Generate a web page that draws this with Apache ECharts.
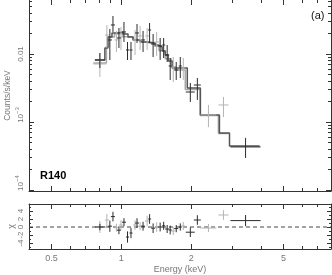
<!DOCTYPE html>
<html><head><meta charset="utf-8">
<script src="https://cdn.jsdelivr.net/npm/echarts@6/dist/echarts.min.js"></script>
<style>html,body{margin:0;padding:0;background:#fff}#c{width:332px;height:275px}</style>
</head><body><div id="c"></div>
<script>
// ---------- data (raw values; plotted on log10 value axes) ----------
const blackE     = [0.808, 0.892, 0.920, 0.976, 1.026, 1.063, 1.100, 1.168, 1.240, 1.323, 1.370, 1.469, 1.521, 1.575, 1.623, 1.723, 1.794, 1.982, 2.125, 3.428];
const blackELo   = [0.769, 0.875, 0.901, 0.957, 1.006, 1.047, 1.084, 1.145, 1.216, 1.304, 1.343, 1.440, 1.499, 1.544, 1.599, 1.688, 1.767, 1.894, 2.052, 2.951];
const blackEHi   = [0.849, 0.911, 0.938, 0.996, 1.047, 1.079, 1.117, 1.191, 1.265, 1.343, 1.398, 1.499, 1.544, 1.607, 1.648, 1.758, 1.821, 2.071, 2.199, 3.980];
const blackFlux  = [0.00816, 0.01607, 0.0267, 0.01719, 0.02107, 0.01145, 0.01145, 0.02036, 0.01607, 0.02254, 0.01403, 0.01311, 0.01356, 0.00967, 0.00666, 0.00582, 0.00666, 0.00276, 0.00350, 0.000430];
const blackFluxLo= [0.00622, 0.00816, 0.02107, 0.01225, 0.01501, 0.00816, 0.00816, 0.01451, 0.0107, 0.01451, 0.00903, 0.00816, 0.00873, 0.00763, 0.00415, 0.00415, 0.00443, 0.00197, 0.00211, 0.000296];
const blackFluxHi= [0.01034, 0.0233, 0.0362, 0.0241, 0.02955, 0.01501, 0.01501, 0.0276, 0.0218, 0.02857, 0.01968, 0.01719, 0.01719, 0.01356, 0.00873, 0.00763, 0.00903, 0.00375, 0.00443, 0.000584];
const blackResid = [0, 0.2, 2.6, -0.8, 1.2, -2.5, -1.5, 1.0, 0.2, 2.0, -0.3, 0, 0.3, -0.5, -0.75, -0.4, 0, -1.3, 1.75, 1.6];
const blackResidErr = [0.8, 1.4, 1.2, 1.0, 1.0, 1.4, 1.3, 1.2, 1.1, 1.2, 1.2, 1.1, 1.0, 1.0, 1.1, 0.9, 0.9, 1.2, 1.2, 1.4];

const grayE      = [0.808, 0.866, 0.952, 0.996, 1.145, 1.204, 1.291, 1.419, 1.673, 1.848, 2.372, 2.753];
const grayELo    = [0.757, 0.849, 0.934, 0.976, 1.123, 1.180, 1.265, 1.391, 1.639, 1.811, 2.189, 2.618];
const grayEHi    = [0.862, 0.884, 0.971, 1.016, 1.168, 1.228, 1.317, 1.453, 1.706, 1.885, 2.568, 2.895];
const grayFlux   = [0.00713, 0.0190, 0.01607, 0.01778, 0.01607, 0.0184, 0.0184, 0.01501, 0.00644, 0.00622, 0.001268, 0.00178];
const grayFluxLo = [0.00459, 0.01225, 0.0107, 0.01145, 0.00967, 0.01145, 0.01145, 0.00935, 0.00387, 0.00415, 0.00084, 0.00118];
const grayFluxHi = [0.01034, 0.0267, 0.0218, 0.0249, 0.02254, 0.0258, 0.0241, 0.02107, 0.00903, 0.00873, 0.00178, 0.00233];
const grayResid  = [0, 1.75, -0.2, 0.5, 0.5, 0.2, 1.5, 0, -1.0, 0.25, -0.25, 3.0];
const grayResidErr = [1.5, 1.5, 1.0, 1.2, 1.2, 1.0, 1.3, 1.2, 1.0, 1.0, 1.0, 1.2];

const modelBlackEdges  = [0.769, 0.849, 0.875, 0.911, 0.967, 1.016, 1.068, 1.123, 1.204, 1.304, 1.398, 1.440, 1.499, 1.544, 1.591, 1.656, 1.923, 2.189, 2.645, 2.923, 3.941];
const modelBlackValues = [0.00816, 0.01225, 0.01778, 0.02036, 0.02107, 0.01968, 0.01778, 0.01607, 0.01501, 0.01451, 0.01356, 0.01268, 0.01107, 0.00967, 0.00789, 0.00622, 0.00316, 0.001268, 0.000689, 0.000444];
const modelGrayEdges   = [0.757, 0.862, 0.884, 0.934, 0.976, 1.016, 1.123, 1.168, 1.228, 1.317, 1.391, 1.453, 1.545, 1.639, 1.706, 1.885, 2.189, 2.618, 2.895];
const modelGrayValues  = [0.0074, 0.0128, 0.0178, 0.0198, 0.0200, 0.0180, 0.0163, 0.0153, 0.0146, 0.0140, 0.0130, 0.0112, 0.0085, 0.0065, 0.0058, 0.0030, 0.00125, 0.00068];

const xMajorTicks = [0.5, 1, 2, 5];
const xMinorTicks = [0.6, 0.7, 0.8, 0.9, 3, 4, 6, 7];
const yMajorTicks = [1e-4, 1e-3, 1e-2];
const yMinorTicks = [2e-4,3e-4,4e-4,5e-4,6e-4,7e-4,8e-4,9e-4,2e-3,3e-3,4e-3,5e-3,6e-3,7e-3,8e-3,9e-3,0.02,0.03,0.04,0.05,0.06];
const residMajorTicks = [-4, -2, 0, 2, 4];
const residMinorTicks = [-5, -3, -1, 1, 3, 5];
const xTickLabels = ['0.5', '1', '2', '5'];
const yTickLabels = ['{b|10}{s|−4}', '{b|10}{s|−3}', '{n|0.01}'];
const residTickLabels = ['-4', '-2', '0', '2', '4'];

// ---------- style / layout ----------
const AX = '#333', LBL = '#777', FONT = '"Liberation Sans", Arial, sans-serif';
const L = Math.log10;
const X_MIN = L(0.4), X_MAX = L(8), Y_MIN = L(9.67e-5), Y_MAX = L(0.0622), R_MIN = -5.5, R_MAX = 5.75;

function findLabel(ticks, labels, v, log) {
  const i = ticks.findIndex(t => Math.abs((log ? L(t) : t) - v) < 1e-6);
  return i < 0 ? '' : labels[i];
}
function mkAxis(gridIndex, position, min, max, values, len, showLine, label, extra) {
  return Object.assign({
    type: 'value', gridIndex, position, min, max,
    axisLine: {show: showLine, onZero: false, lineStyle: {color: AX, width: 1}},
    axisTick: {show: true, inside: true, length: len, customValues: values, lineStyle: {color: AX, width: 1}},
    axisLabel: label || {show: false},
    splitLine: {show: false}
  }, extra || {});
}
const xMaj = xMajorTicks.map(L), xMin = xMinorTicks.map(L);
const yMaj = yMajorTicks.map(L), yMin = yMinorTicks.map(L);

const xAxes = [
  mkAxis(0, 'bottom', X_MIN, X_MAX, xMaj, 5, true),
  mkAxis(0, 'bottom', X_MIN, X_MAX, xMin, 3, false),
  mkAxis(0, 'top', X_MIN, X_MAX, xMaj, 5, false),
  mkAxis(0, 'top', X_MIN, X_MAX, xMin, 3, false),
  mkAxis(1, 'bottom', X_MIN, X_MAX, xMaj, 5, true, {
    show: true, customValues: xMaj, margin: 5, color: LBL, fontSize: 9, fontFamily: FONT,
    formatter: v => findLabel(xMajorTicks, xTickLabels, v, true)
  }, {name: 'Energy (keV)', nameLocation: 'middle', nameGap: 16, nameMoveOverlap: false,
      nameTextStyle: {color: LBL, fontSize: 9, fontFamily: FONT}}),
  mkAxis(1, 'bottom', X_MIN, X_MAX, xMin, 3, false),
  mkAxis(1, 'top', X_MIN, X_MAX, xMaj, 5, true),
  mkAxis(1, 'top', X_MIN, X_MAX, xMin, 3, false)
];

const yAxes = [
  mkAxis(0, 'left', Y_MIN, Y_MAX, yMaj, 5, true, {
    show: true, customValues: yMaj, rotate: 90, margin: 4, color: LBL, fontFamily: FONT,
    formatter: v => findLabel(yMajorTicks, yTickLabels, v, true),
    rich: {
      n: {fontSize: 8, color: LBL, fontFamily: FONT},
      b: {fontSize: 8, color: LBL, fontFamily: FONT, padding: [0, 0, 0, 14], lineHeight: 11, verticalAlign: 'bottom'},
      s: {fontSize: 6, color: LBL, fontFamily: FONT, lineHeight: 11, verticalAlign: 'top'}
    }
  }, {name: 'Counts/s/keV', nameLocation: 'middle', nameGap: 17, nameRotate: 90, nameMoveOverlap: false,
      nameTextStyle: {color: LBL, fontSize: 8.5, fontFamily: FONT}}),
  mkAxis(0, 'left', Y_MIN, Y_MAX, yMin, 3, false),
  mkAxis(0, 'right', Y_MIN, Y_MAX, yMaj, 5, true),
  mkAxis(0, 'right', Y_MIN, Y_MAX, yMin, 3, false),
  mkAxis(1, 'left', R_MIN, R_MAX, residMajorTicks, 4, true, {
    show: true, customValues: residMajorTicks, rotate: 90, margin: 4, color: LBL, fontSize: 8, fontFamily: FONT,
    formatter: v => findLabel(residMajorTicks, residTickLabels, v, false)
  }, {name: 'χ', nameLocation: 'middle', nameGap: 13, nameRotate: 90, nameMoveOverlap: false,
      nameTextStyle: {color: LBL, fontSize: 9, fontFamily: FONT}}),
  mkAxis(1, 'left', R_MIN, R_MAX, residMinorTicks, 2, false),
  mkAxis(1, 'right', R_MIN, R_MAX, residMajorTicks, 4, true),
  mkAxis(1, 'right', R_MIN, R_MAX, residMinorTicks, 2, false)
];

function crossRender(color) {
  return function (params, api) {
    const e = api.value(0), lo = api.value(1), hi = api.value(2);
    const v = api.value(3), vlo = api.value(4), vhi = api.value(5);
    const h1 = api.coord([lo, v]), h2 = api.coord([hi, v]);
    const v1 = api.coord([e, vlo]), v2 = api.coord([e, vhi]);
    const st = {stroke: color, lineWidth: 1};
    return {type: 'group', children: [
      {type: 'line', shape: {x1: h1[0], y1: h1[1], x2: h2[0], y2: h2[1]}, style: st},
      {type: 'line', shape: {x1: v1[0], y1: v1[1], x2: v2[0], y2: v2[1]}, style: st}
    ]};
  };
}
function specRows(E, Lo, Hi, F, FLo, FHi) {
  return E.map((e, i) => [L(e), L(Lo[i]), L(Hi[i]), L(F[i]), L(FLo[i]), L(FHi[i])]);
}
function residRows(E, Lo, Hi, R, RE) {
  return E.map((e, i) => [L(e), L(Lo[i]), L(Hi[i]), R[i], R[i] - RE[i], R[i] + RE[i]]);
}
function stepRows(edges, vals) {
  const d = vals.map((v, i) => [L(edges[i]), L(v)]);
  d.push([L(edges[edges.length - 1]), L(vals[vals.length - 1])]);
  return d;
}

const BLACK = '#2b2b2b', GRAY = '#b4b4b4';
const series = [
  {type: 'line', step: 'end', xAxisIndex: 0, yAxisIndex: 0, symbol: 'none',
   data: stepRows(modelGrayEdges, modelGrayValues), lineStyle: {color: '#a8a8a8', width: 1.5}, z: 2},
  {type: 'line', step: 'end', xAxisIndex: 0, yAxisIndex: 0, symbol: 'none',
   data: stepRows(modelBlackEdges, modelBlackValues), lineStyle: {color: '#555', width: 1.5}, z: 3},
  {type: 'custom', xAxisIndex: 0, yAxisIndex: 0, renderItem: crossRender(GRAY),
   encode: {x: [0, 1, 2], y: [3, 4, 5]},
   data: specRows(grayE, grayELo, grayEHi, grayFlux, grayFluxLo, grayFluxHi), z: 4},
  {type: 'custom', xAxisIndex: 0, yAxisIndex: 0, renderItem: crossRender(BLACK),
   encode: {x: [0, 1, 2], y: [3, 4, 5]},
   data: specRows(blackE, blackELo, blackEHi, blackFlux, blackFluxLo, blackFluxHi), z: 5},
  {type: 'line', xAxisIndex: 4, yAxisIndex: 4, symbol: 'none',
   data: [[X_MIN, 0], [X_MAX, 0]], lineStyle: {color: '#444', width: 1, type: [4, 3]}, z: 2},
  {type: 'custom', xAxisIndex: 4, yAxisIndex: 4, renderItem: crossRender(GRAY),
   encode: {x: [0, 1, 2], y: [3, 4, 5]},
   data: residRows(grayE, grayELo, grayEHi, grayResid, grayResidErr), z: 4},
  {type: 'custom', xAxisIndex: 4, yAxisIndex: 4, renderItem: crossRender(BLACK),
   encode: {x: [0, 1, 2], y: [3, 4, 5]},
   data: residRows(blackE, blackELo, blackEHi, blackResid, blackResidErr), z: 5}
];

const chart = echarts.init(document.getElementById('c'), null, {renderer: 'canvas'});
chart.setOption({
  animation: false,
  backgroundColor: '#fff',
  grid: [
    {left: 29, top: 0, width: 302, height: 191, outerBoundsMode: 'none', containLabel: false},
    {left: 29, top: 204, width: 302, height: 45, outerBoundsMode: 'none', containLabel: false}
  ],
  xAxis: xAxes,
  yAxis: yAxes,
  series,
  graphic: [
    {type: 'text', left: 40, top: 170, style: {text: 'R140', fill: '#000', fontSize: 11, fontWeight: 'bold', fontFamily: FONT}},
    {type: 'text', left: 311, top: 10, style: {text: '(a)', fill: '#111', fontSize: 11, fontFamily: FONT}}
  ]
});
</script></body></html>
